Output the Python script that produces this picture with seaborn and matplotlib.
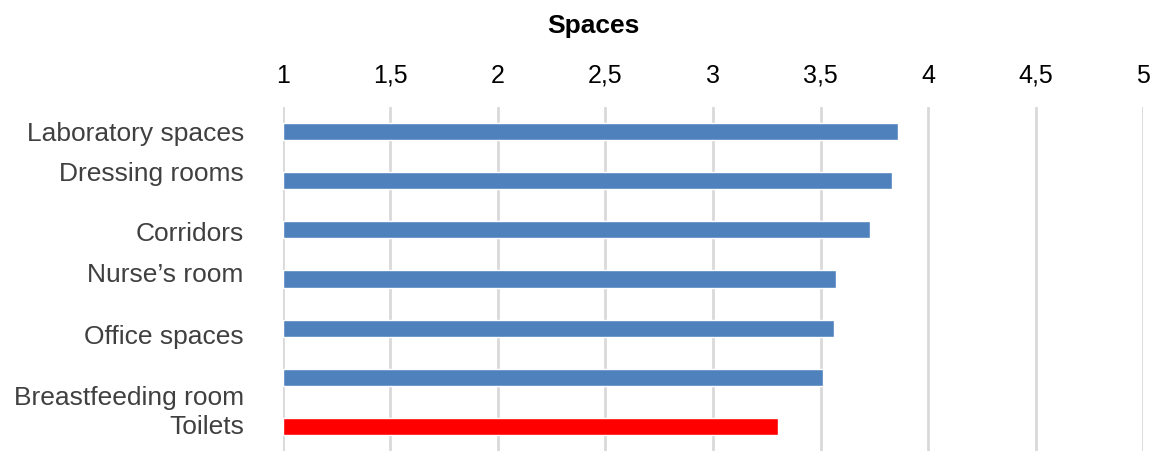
import matplotlib
matplotlib.use("Agg")
import matplotlib.pyplot as plt
import matplotlib.transforms as mtransforms
import seaborn as sns
import pandas as pd

categories = ["Laboratory spaces", "Dressing rooms", "Corridors", "Nurse\u2019s room",
              "Office spaces", "Breastfeeding room", "Toilets"]
values = [3.86, 3.83, 3.73, 3.57, 3.56, 3.51, 3.30]
groups = ["other", "other", "other", "other", "other", "other", "lowest"]
xticks = [1, 1.5, 2, 2.5, 3, 3.5, 4, 4.5, 5]
xtick_labels = ["1", "1,5", "2", "2,5", "3", "3,5", "4", "4,5", "5"]
title = "Spaces"

sns.set_theme(style="white")
plt.rcParams['font.family'] = ['Liberation Sans', 'DejaVu Sans']

df = pd.DataFrame({"category": categories, "value": values, "group": groups})

fig = plt.figure(figsize=(11.57, 4.51), dpi=100)
ax = fig.add_axes([0.2443, 0.0, 0.9883 - 0.2443, 0.7627])

sns.barplot(data=df, x="value", y="category", hue="group", orient="h",
            palette={"other": "#4F81BD", "lowest": "#FF0000"}, saturation=1,
            width=0.35, dodge=False, legend=False, ax=ax, zorder=3)

# bars start at 1
for p in ax.patches:
    w = p.get_width()
    p.set_x(1)
    p.set_width(w - 1)

ax.set_xlim(1, 5)
ax.set_ylim(6.5, -0.5)
ax.set_xticks(xticks)
ax.set_xticklabels(xtick_labels)
ax.xaxis.tick_top()
ax.tick_params(axis='x', length=0, pad=14, labelsize=18, labelcolor="#000000")
ax.tick_params(axis='y', length=0, pad=28, labelsize=19, labelcolor="#404040")
ax.set_xlabel("")
ax.set_ylabel("")
ax.grid(axis='x', color="#D9D9D9", linewidth=2, zorder=0)
ax.grid(axis='y', visible=False)
for s in ax.spines.values():
    s.set_visible(False)

# label vertical offsets (pixels, positive = down) as in the reference
offsets_px = [0, -9, 2, -7, 6, 18, -2]
for lbl, off in zip(ax.get_yticklabels(), offsets_px):
    lbl.set_transform(lbl.get_transform() + mtransforms.ScaledTranslation(0, -off / 100, fig.dpi_scale_trans))

fig.text(593 / 1157, 1 - 26 / 451, title, ha="center", va="center",
         fontsize=19, fontweight="bold", color="#000000")

fig.savefig("out.png", dpi=100)
